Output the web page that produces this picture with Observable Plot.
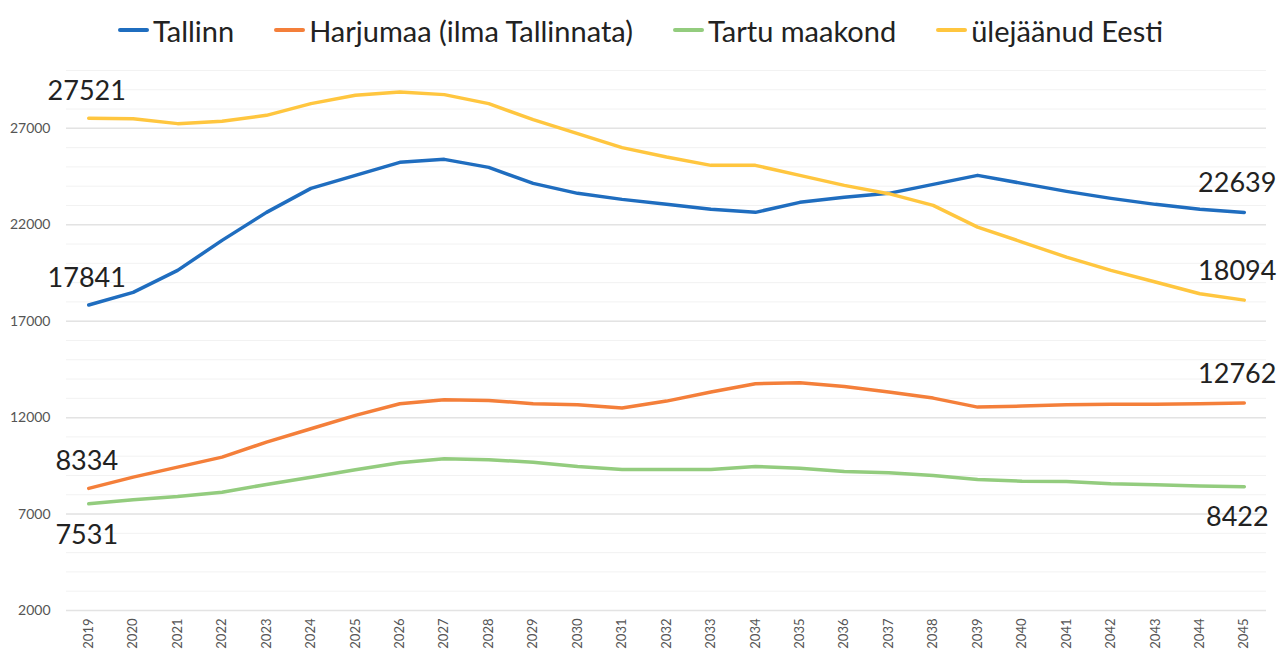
<!DOCTYPE html>
<html>
<head>
<meta charset="utf-8">
<script src="https://cdn.jsdelivr.net/npm/d3@7"></script>
<script src="https://cdn.jsdelivr.net/npm/@observablehq/plot@0.6"></script>
<style>
  html, body { margin: 0; padding: 0; background: #fff; }
  body { width: 1281px; height: 653px; overflow: hidden; font-family: Lato, "Open Sans", sans-serif; }
  #legend { height: 60px; display: flex; justify-content: center; align-items: center; gap: 40px; font-size: 29px; color: #222; padding-left: 0; box-sizing: border-box; }
  #legend .item { display: flex; align-items: center; }
  #legend .sw { width: 31px; height: 4px; margin-right: 4px; border-radius: 2px; }
</style>
</head>
<body>
<div id="legend"></div>
<div id="chart"></div>
<script>
const years = d3.range(2019, 2046);
const seriesNames = ["Tallinn", "Harjumaa (ilma Tallinnata)", "Tartu maakond", "ülejäänud Eesti"];
const seriesColors = ["#1F6DBF", "#F47F3A", "#93CC7E", "#FFC63F"];

const tallinn = [17841, 18495, 19636, 21192, 22644, 23889, 24563, 25238, 25393, 24978, 24148, 23630, 23318, 23059, 22800, 22644, 23163, 23422, 23630, 24097, 24563, 24148, 23733, 23370, 23059, 22800, 22639];
const harjumaa = [8334, 8914, 9433, 9952, 10730, 11422, 12115, 12720, 12929, 12893, 12720, 12669, 12495, 12858, 13325, 13757, 13809, 13619, 13325, 13013, 12547, 12600, 12669, 12690, 12700, 12720, 12762];
const tartu = [7531, 7742, 7913, 8136, 8536, 8914, 9297, 9660, 9868, 9816, 9692, 9469, 9313, 9313, 9313, 9469, 9381, 9210, 9141, 9002, 8795, 8707, 8691, 8571, 8519, 8460, 8422];
const muuEesti = [27521, 27500, 27245, 27364, 27676, 28283, 28713, 28885, 28749, 28283, 27453, 26727, 26001, 25513, 25082, 25082, 24563, 24045, 23613, 23007, 21882, 21104, 20326, 19636, 19030, 18427, 18094];

const yTicks = [2000, 7000, 12000, 17000, 22000, 27000];
const yMinor = d3.range(2000, 30001, 1000);

const allValues = [tallinn, harjumaa, tartu, muuEesti];
const data = [];
allValues.forEach((vals, si) => vals.forEach((v, i) => data.push({series: seriesNames[si], year: years[i], value: v})));

const endLabels = [
  {series: 0, year: 2019, value: tallinn[0], pos: "above"},
  {series: 3, year: 2019, value: muuEesti[0], pos: "above"},
  {series: 1, year: 2019, value: harjumaa[0], pos: "above"},
  {series: 2, year: 2019, value: tartu[0], pos: "below"},
  {series: 0, year: 2045, value: tallinn[26], pos: "above"},
  {series: 3, year: 2045, value: muuEesti[26], pos: "above"},
  {series: 1, year: 2045, value: harjumaa[26], pos: "above"},
  {series: 2, year: 2045, value: tartu[26], pos: "below"}
];

const legend = document.getElementById("legend");
seriesNames.forEach((n, i) => {
  const it = document.createElement("div");
  it.className = "item";
  const sw = document.createElement("span");
  sw.className = "sw";
  sw.style.background = seriesColors[i];
  const t = document.createElement("span");
  t.textContent = n;
  it.appendChild(sw); it.appendChild(t);
  legend.appendChild(it);
});

const chart = Plot.plot({
  width: 1281,
  height: 593,
  marginLeft: 66,
  marginRight: 15,
  marginTop: 10,
  marginBottom: 43,
  style: {fontFamily: "Lato, 'Open Sans', sans-serif", background: "#fff"},
  x: {domain: [2018.5, 2045.5], axis: null},
  y: {domain: [2000, 30000], axis: null},
  color: {domain: seriesNames, range: seriesColors},
  marks: [
    Plot.ruleY(yMinor, {stroke: "#f2f2f2", strokeWidth: 1}),
    Plot.ruleY(yTicks, {stroke: "#e3e3e3", strokeWidth: 1.5}),
    Plot.axisY(yTicks, {anchor: "left", label: null, tickSize: 0, tickPadding: 16, fontSize: 14, fill: "#555", tickFormat: d => String(d)}),
    Plot.axisX(years, {anchor: "bottom", label: null, tickSize: 0, tickPadding: 8, tickRotate: -90, fontSize: 13, fill: "#555", tickFormat: d => String(d)}),
    Plot.line(data, {x: "year", y: "value", z: "series", stroke: "series", strokeWidth: 3.5, strokeLinejoin: "round", strokeLinecap: "round"}),
    Plot.text(endLabels.filter(d => d.year === 2019 && d.pos === "above"), {x: "year", y: "value", text: d => String(d.value), dy: -27, dx: -2, fontSize: 27, fill: "#222"}),
    Plot.text(endLabels.filter(d => d.year === 2019 && d.pos === "below"), {x: "year", y: "value", text: d => String(d.value), dy: 32, dx: -2, fontSize: 27, fill: "#222"}),
    Plot.text(endLabels.filter(d => d.year === 2045 && d.pos === "above"), {x: "year", y: "value", text: d => String(d.value), dy: -29, dx: -7, fontSize: 27, fill: "#222"}),
    Plot.text(endLabels.filter(d => d.year === 2045 && d.pos === "below"), {x: "year", y: "value", text: d => String(d.value), dy: 31, dx: -7, fontSize: 27, fill: "#222"})
  ]
});
document.getElementById("chart").appendChild(chart);
</script>
</body>
</html>
